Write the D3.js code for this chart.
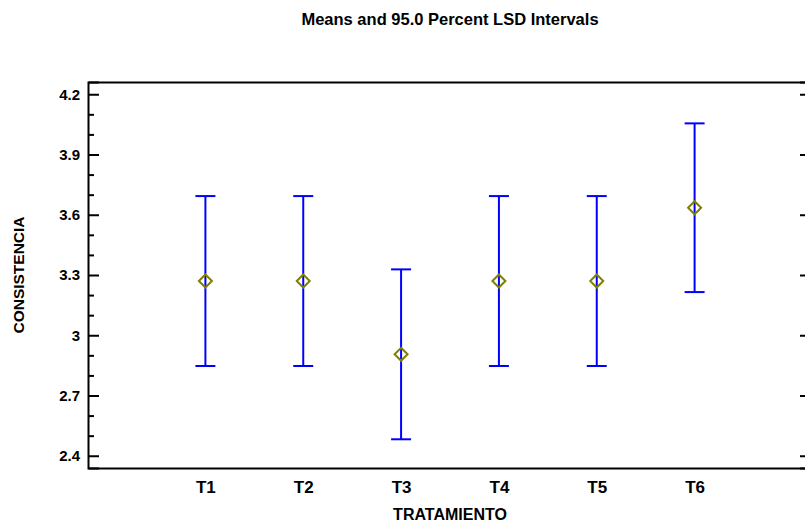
<!DOCTYPE html>
<html>
<head>
<style>
  body { margin: 0; background: #fff; }
  text { font-family: "Liberation Sans", Arial, sans-serif; font-weight: bold; fill: #000; }
  .axis path, .axis line { stroke: #000; stroke-width: 2px; fill: none; }
</style>
</head>
<body>
<div id="chart"></div>
<script src="https://cdnjs.cloudflare.com/ajax/libs/d3/7.8.5/d3.min.js"></script>
<script>
const categories = ['T1', 'T2', 'T3', 'T4', 'T5', 'T6'];
const means = [3.27, 3.27, 2.905, 3.27, 3.27, 3.635];
const lower = [2.847, 2.847, 2.482, 2.847, 2.847, 3.215];
const upper = [3.693, 3.693, 3.328, 3.693, 3.693, 4.055];
const yTicks = [2.4, 2.7, 3.0, 3.3, 3.6, 3.9, 4.2];
const yMinor = [2.5, 2.6, 2.8, 2.9, 3.1, 3.2, 3.4, 3.5, 3.7, 3.8, 4.0, 4.1];

const W = 805, H = 527;
const m = { left: 88, right: 812, top: 82, bottom: 468 };

const svg = d3.select('#chart').append('svg')
  .attr('width', W).attr('height', H);

const x = d3.scalePoint().domain(categories).range([m.left, m.right]).padding(1.2);
const y = d3.scaleLinear().domain([2.339, 4.261]).range([m.bottom, m.top]);

// title
svg.append('text')
  .attr('x', (m.left + m.right) / 2).attr('y', 25)
  .attr('text-anchor', 'middle')
  .style('font-size', '16.5px')
  .text('Means and 95.0 Percent LSD Intervals');

// top line
svg.append('g').attr('class', 'axis')
  .attr('transform', `translate(0,${m.top})`)
  .call(d3.axisTop(x).tickSize(0).tickFormat(''));

// bottom axis
svg.append('g').attr('class', 'axis x')
  .attr('transform', `translate(0,${m.bottom})`)
  .call(d3.axisBottom(x).tickSize(0).tickPadding(13))
  .call(g => g.selectAll('text').style('font-size', '17px'));

// left axis, major and minor ticks pointing inward
svg.append('g').attr('class', 'axis y')
  .attr('transform', `translate(${m.left},0)`)
  .call(d3.axisLeft(y).tickValues(yTicks).tickSize(-11).tickPadding(8)
    .tickFormat(d => String(+d.toFixed(1))))
  .call(g => g.selectAll('text').style('font-size', '15px'));

svg.append('g').attr('class', 'axis')
  .attr('transform', `translate(${m.left},0)`)
  .call(d3.axisLeft(y).tickValues(yMinor).tickSize(-6).tickFormat(''))
  .call(g => g.select('.domain').remove());

// right axis
svg.append('g').attr('class', 'axis')
  .attr('transform', `translate(${m.right},0)`)
  .call(d3.axisRight(y).tickValues(yTicks).tickSize(-12).tickFormat(''));

// axis titles
svg.append('text')
  .attr('x', (m.left + m.right) / 2).attr('y', 520)
  .attr('text-anchor', 'middle')
  .style('font-size', '16px')
  .text('TRATAMIENTO');

svg.append('text')
  .attr('transform', `translate(24,${(m.top + m.bottom) / 2}) rotate(-90)`)
  .attr('text-anchor', 'middle')
  .style('font-size', '15.5px')
  .text('CONSISTENCIA');

// intervals
const g = svg.append('g');
const rows = categories.map((c, i) => ({ c, m: means[i], lo: lower[i], hi: upper[i] }));

g.selectAll('.bar').data(rows).enter().append('line')
  .attr('x1', d => x(d.c)).attr('x2', d => x(d.c))
  .attr('y1', d => y(d.lo)).attr('y2', d => y(d.hi))
  .attr('stroke', '#0000ff').attr('stroke-width', 2);

['lo', 'hi'].forEach(k => {
  g.selectAll('.cap-' + k).data(rows).enter().append('line')
    .attr('x1', d => x(d.c) - 10).attr('x2', d => x(d.c) + 10)
    .attr('y1', d => y(d[k])).attr('y2', d => y(d[k]))
    .attr('stroke', '#0000ff').attr('stroke-width', 2);
});

// diamonds for the means
g.selectAll('.mean').data(rows).enter().append('path')
  .attr('transform', d => `translate(${x(d.c)},${y(d.m)})`)
  .attr('d', 'M0,-6.5L6.5,0L0,6.5L-6.5,0Z')
  .attr('fill', 'none').attr('stroke', '#808000').attr('stroke-width', 2);
</script>
</body>
</html>
